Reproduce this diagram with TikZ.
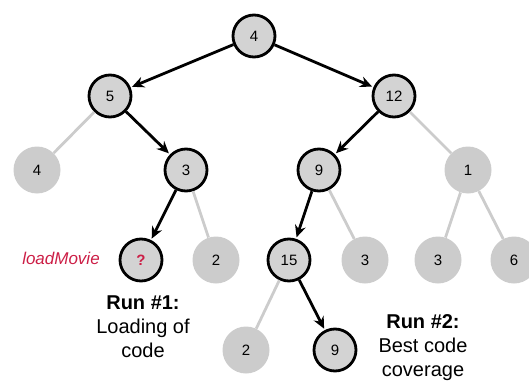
\documentclass[tikz,border=0pt]{standalone}
\usepackage{fontspec}
\setmainfont{Liberation Sans}
\usetikzlibrary{arrows.meta}
\definecolor{nodegray}{RGB}{211,211,211}
\definecolor{lightg}{RGB}{204,204,204}
\definecolor{crim}{RGB}{204,30,70}
\tikzset{
  visited/.style={circle, draw=black, line width=2.8pt, fill=nodegray, minimum size=42pt, inner sep=0pt, font=\fontsize{15}{17}\selectfont},
  unvisited/.style={circle, fill=lightg, minimum size=47pt, inner sep=0pt, font=\fontsize{15}{17}\selectfont},
  arr/.style={line width=2.8pt, -{Stealth[length=12pt, width=11pt, inset=4pt]}, shorten >=1.5pt},
  gline/.style={line width=2.8pt, draw=lightg},
  lbl/.style={align=center, font=\fontsize{20}{24}\selectfont}
}
\begin{document}
\begin{tikzpicture}[x=1pt,y=-1pt]
\useasboundingbox (0,0) rectangle (529,385);
% unvisited nodes
\node[unvisited] (g4) at (37,170) {4};
\node[unvisited] (g1) at (468,170) {1};
\node[unvisited] (g2a) at (216,260) {2};
\node[unvisited] (g3a) at (365,260) {3};
\node[unvisited] (g3b) at (438,260) {3};
\node[unvisited] (g6) at (514,260) {6};
\node[unvisited] (g2b) at (246,350) {2};
% visited nodes
\node[visited] (r) at (254,36) {4};
\node[visited] (n5) at (110,96) {5};
\node[visited] (n12) at (394,96) {12};
\node[visited] (n3) at (186,170) {3};
\node[visited] (n9) at (319,170) {9};
\node[visited] (q) at (141,260) {\textcolor{crim}{\textbf{?}}};
\node[visited] (n15) at (289,260) {15};
\node[visited] (n9b) at (335,350) {9};
% gray edges
\draw[gline] (n5) -- (g4);
\draw[gline] (n12) -- (g1);
\draw[gline] (n3) -- (g2a);
\draw[gline] (n9) -- (g3a);
\draw[gline] (g1) -- (g3b);
\draw[gline] (g1) -- (g6);
\draw[gline] (n15) -- (g2b);
% arrows
\draw[arr] (r) -- (n5);
\draw[arr] (r) -- (n12);
\draw[arr] (n5) -- (n3);
\draw[arr] (n12) -- (n9);
\draw[arr] (n3) -- (q);
\draw[arr] (n9) -- (n15);
\draw[arr] (n15) -- (n9b);
% labels
\node[font=\fontsize{17}{20}\selectfont\itshape, text=crim] (lm) at (61,258) {loadMovie};
\node[lbl] (run1) at (143,327) {\textbf{Run \#1:}\\Loading of\\code};
\node[lbl] (run2) at (423,348) {\textbf{Run \#2:}\\Best code\\coverage};
\end{tikzpicture}
\end{document}
